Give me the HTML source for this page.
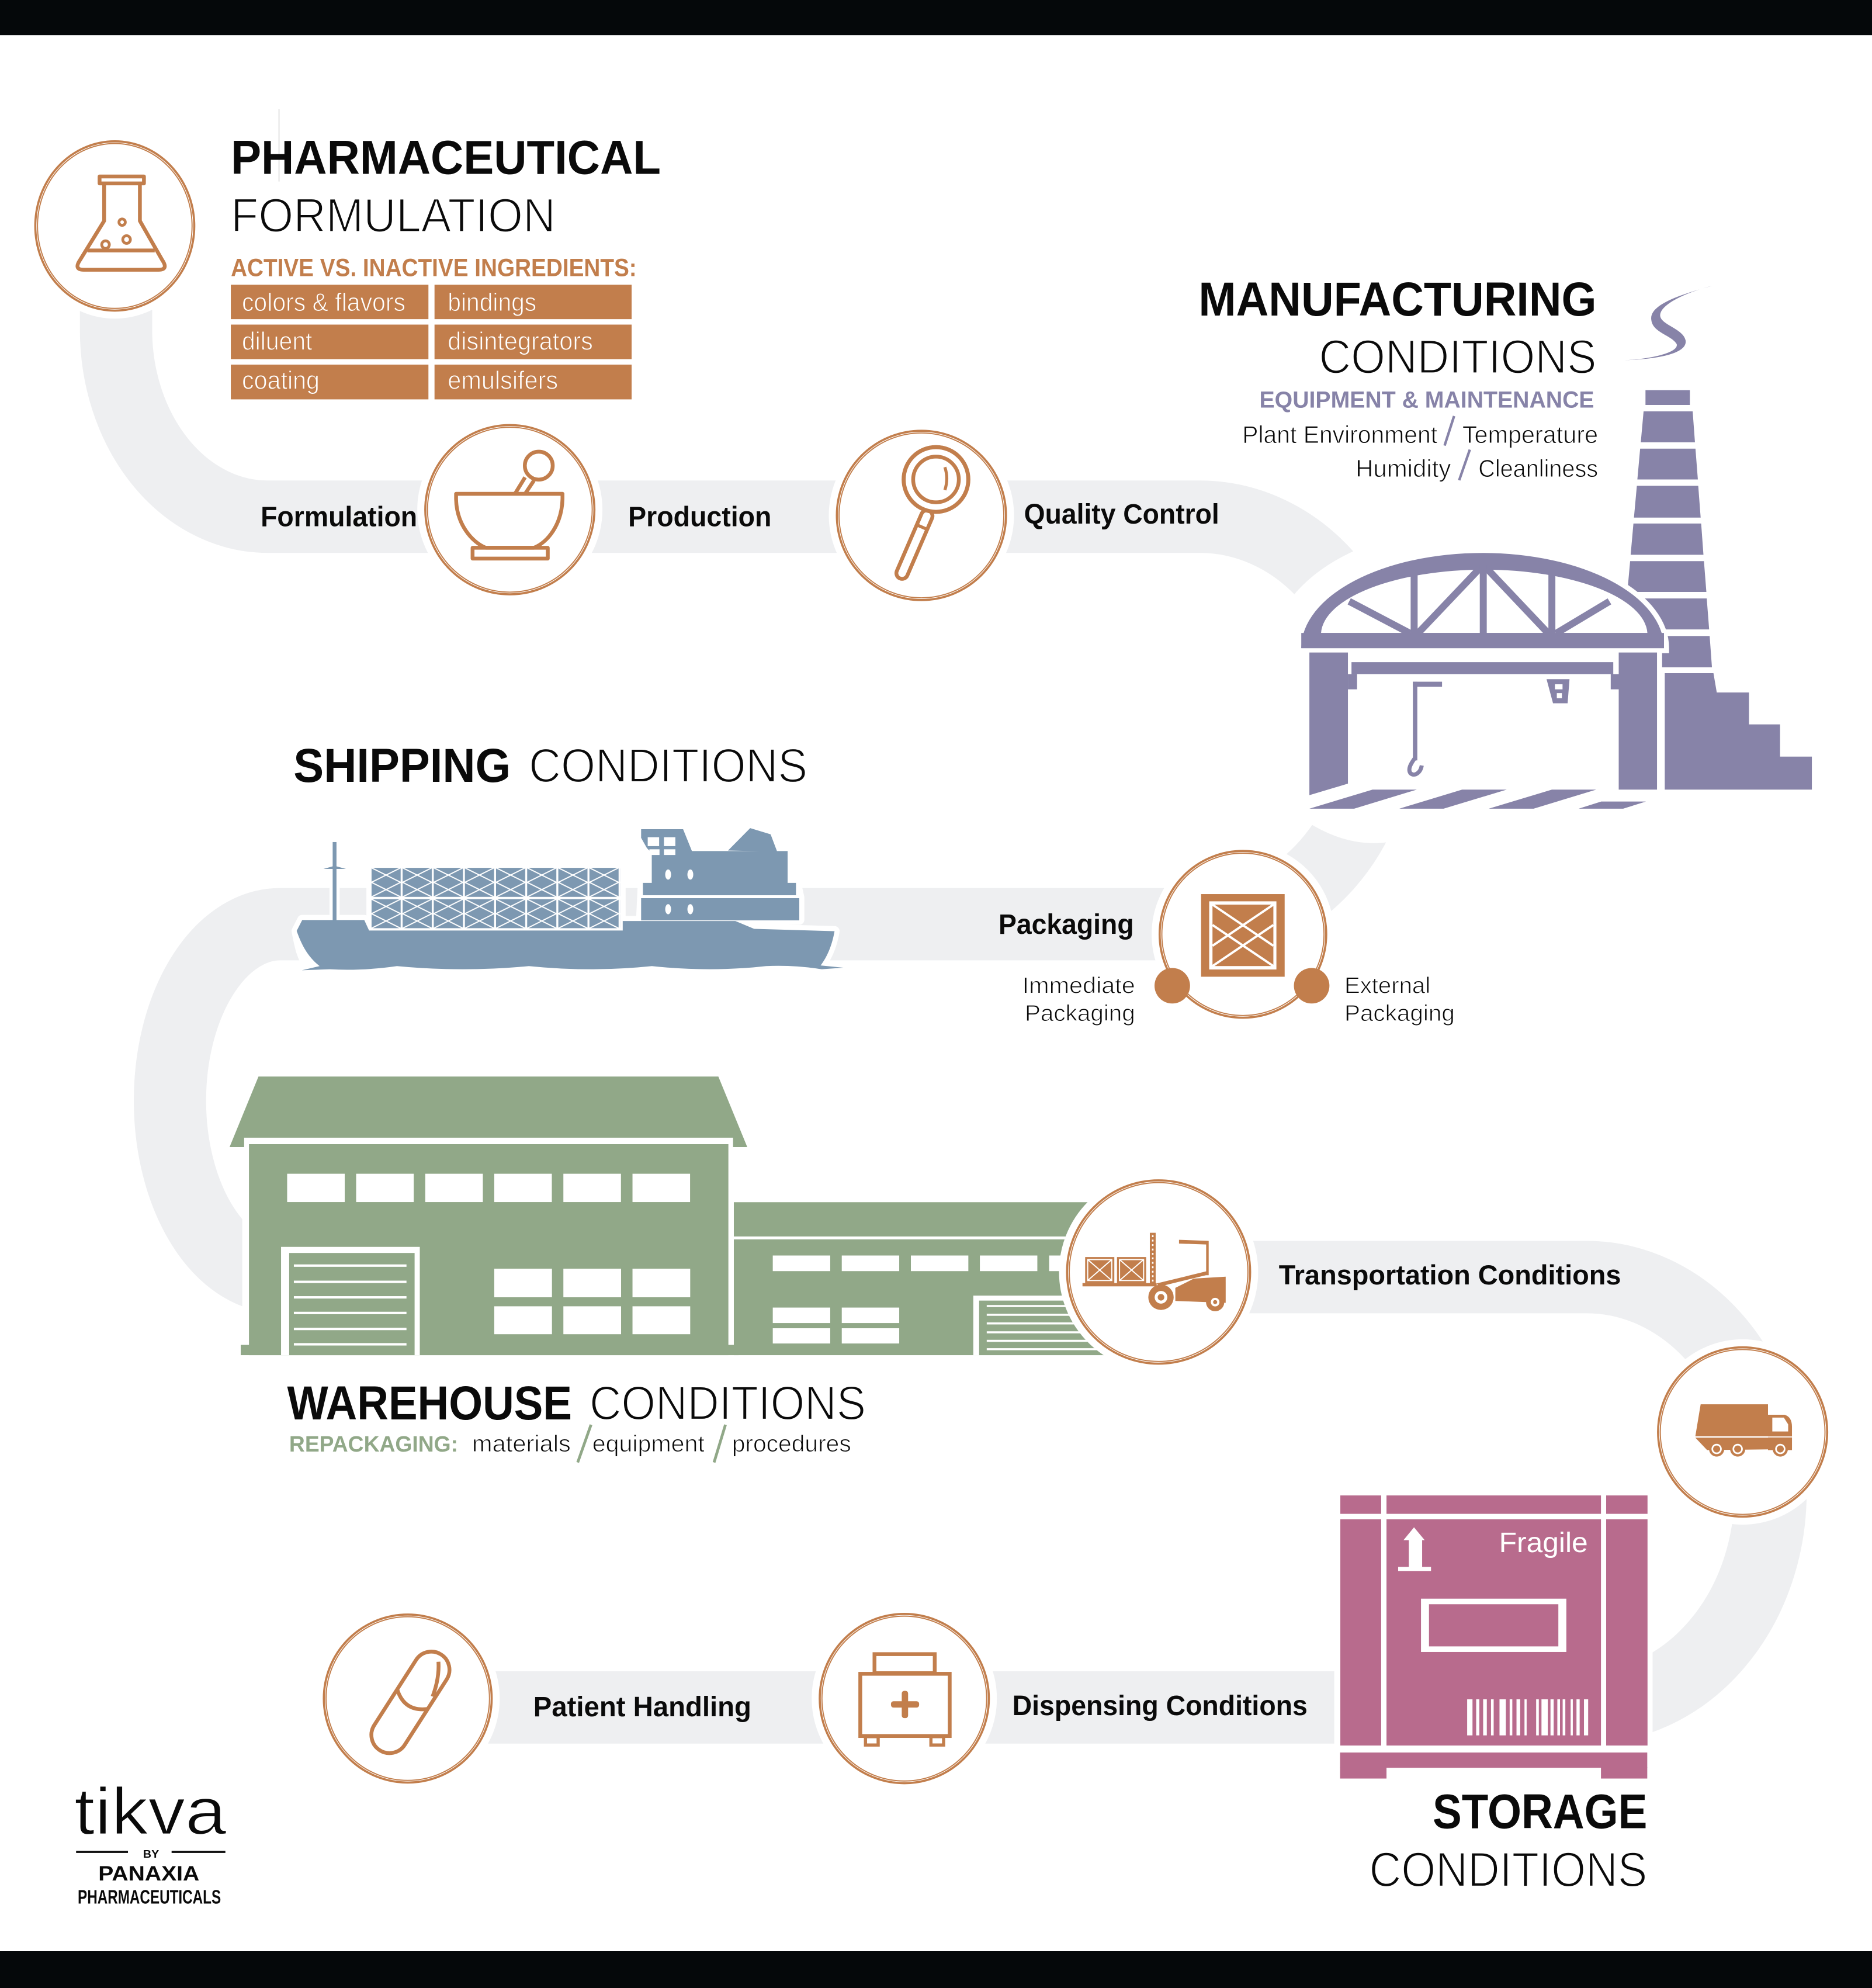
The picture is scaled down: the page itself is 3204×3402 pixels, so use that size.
<!DOCTYPE html>
<html><head><meta charset="utf-8"><style>
html,body{margin:0;padding:0;background:#fff;overflow:hidden}
svg{display:block}
text{font-family:"Liberation Sans",Arial,sans-serif}
.b{font-weight:bold;fill:#0a0a0a}
.l{fill:#0a0a0a;stroke:#fff;stroke-width:1}
.ls{fill:#0a0a0a;stroke:#fff;stroke-width:0.45}
.o{fill:none;stroke:#C27E4C;stroke-width:3}
</style></head><body>
<svg xmlns="http://www.w3.org/2000/svg" width="3204" height="3402" viewBox="0 0 1476 1566" preserveAspectRatio="none">
<defs>
<pattern id="cont" x="292.9" y="683.6" width="24.55" height="24.7" patternUnits="userSpaceOnUse">
<rect width="24.55" height="24.7" fill="#fff"/>
<rect width="23" height="22.9" fill="#7D98B1"/>
<path d="M0 0 L23 11.45 L0 22.9 M23 0 L0 11.45 L23 22.9" stroke="#fff" stroke-width="0.9" fill="none"/>
</pattern>
</defs>
<rect width="1476" height="1566" fill="#fff"/>
<!-- bars -->
<rect x="0" y="0" width="1476" height="27.7" fill="#05080A"/>
<rect x="0" y="1537" width="1476" height="30" fill="#05080A"/>
<line x1="220" y1="86" x2="220" y2="143" stroke="#e6e6e6" stroke-width="1"/>

<!-- track -->
<path d="M91.5 240 L91.5 260 A119.5 147 0 0 0 211 407 L946 407 A142 160.5 0 0 1 946 728 L221 728 A87 139 0 0 0 221 1006 L1251 1006 A145 169.5 0 0 1 1251 1345 L321 1345" fill="none" stroke="#EEEFF1" stroke-width="57"/>

<!-- white cutouts -->
<ellipse cx="1169" cy="510.5" rx="165" ry="97" fill="#fff"/>
<path d="M1020 505 L1316 505 L1316 651 L1120 656 Q1075 676 1030 647 L1020 647 Z" fill="#fff"/>
<rect x="191" y="845" width="684" height="223" fill="#fff"/>
<rect x="1052" y="1172" width="251" height="230" fill="#fff"/>

<!-- FACTORY -->
<g fill="#8783A8">
<path d="M1350.6 225 C1325 232 1300 240 1302 252 C1303 262 1318 264 1322 271 C1324 278 1300 283 1281 283.7 C1305 283 1331 279 1329 268 C1327 259 1310 256 1309 249 C1308 240 1330 230 1350.6 225 Z"/>
<rect x="1297.4" y="307.3" width="35" height="11.7"/>
<polygon points="1295.9,324 1334.6,324 1336.4,348.4 1293.7,348.4"/>
<polygon points="1293.2,353.4 1336.8,353.4 1338.7,377.7 1291,377.7"/>
<polygon points="1290.6,382.7 1339,382.7 1340.9,407.7 1288.3,407.7"/>
<polygon points="1287.9,412.4 1341.3,412.4 1343.1,437 1285.7,437"/>
<polygon points="1285.3,442 1343.5,442 1345.4,466.3 1283.1,466.3"/>
<polygon points="1282.6,471.4 1345.7,471.4 1347.6,495.8 1280.4,495.8"/>
<polygon points="1280,501 1348,501 1349.8,525.7 1277.7,525.7"/>
<polygon points="1312.6,530.3 1351,530.3 1353.6,545.5 1379,545.5 1379,570.6 1403.5,570.6 1403.5,596 1428.6,596 1428.6,622 1312.6,622"/>
</g>
<!-- arch white outline and pillar outline -->
<path d="M1026 510.5 A143 75 0 0 1 1312 510.5 Z" fill="#fff" stroke="#fff" stroke-width="8"/>
<rect x="1272" y="505" width="38.5" height="120" fill="#fff"/>
<g fill="#8783A8">
<path d="M1026 510.5 A143 75 0 0 1 1312 510.5 Z"/>
</g>
<path d="M1041.6 498.6 A128.7 51.3 0 0 1 1298.9 498.6 Z" fill="#fff"/>
<rect x="1026" y="498.6" width="286" height="12" fill="#8783A8"/>
<g stroke="#8783A8" stroke-width="5.5" fill="none">
<line x1="1115" y1="449" x2="1115" y2="500"/>
<line x1="1169.5" y1="445" x2="1169.5" y2="500"/>
<line x1="1223.6" y1="449" x2="1223.6" y2="500"/>
<line x1="1063.8" y1="473.7" x2="1112" y2="499"/>
<line x1="1117.9" y1="499" x2="1166.4" y2="448"/>
<line x1="1172.5" y1="448" x2="1220.8" y2="499"/>
<line x1="1269" y1="473.7" x2="1226.8" y2="499"/>
</g>
<g fill="#8783A8">
<polygon points="1032.4,514 1062.8,514 1062.8,617.3 1032.4,626.4"/>
<rect x="1276.3" y="514" width="30.2" height="108"/>
<rect x="1065.6" y="521.6" width="206.4" height="9.4"/>
<rect x="1062.8" y="531" width="7.2" height="12"/>
<rect x="1270" y="531" width="6.3" height="12"/>
<rect x="1114" y="537" width="3.5" height="62"/>
<rect x="1114" y="537" width="23" height="4"/>
<polygon points="1219.4,535 1237.5,535 1236,554 1224.5,554"/>
<polygon points="1082.2,622 1117.1,622 1067.7,637 1032.4,637"/>
<polygon points="1152.8,622 1188,622 1138.2,637 1103.3,637"/>
<polygon points="1223.6,622 1258.6,622 1209.2,637 1173.8,637"/>
<polygon points="1262.5,631.4 1297.8,631.4 1279.8,637 1244.7,637"/>
</g>
<rect x="1226" y="539" width="6" height="4" fill="#fff"/>
<rect x="1227.5" y="546" width="4" height="4" fill="#fff"/>
<path d="M1115.7 597 C1112 602 1110 606 1112 609 C1115 612 1120 609 1121 603" fill="none" stroke="#8783A8" stroke-width="3.2"/>

<!-- SHIP -->
<g fill="#fff" stroke="#fff" stroke-width="8" stroke-linejoin="round">
<path d="M238.3 724.7 L287.2 724.7 L291 733 L491 733 L491 725.5 L579.8 725.5 L594.6 731.7 L658 733.5 C656 745 652 754 647 760.5 L648 763.5 Q626 760 604 761 Q560 766 514 761 Q466 766 417 761 Q365 766 313 761 Q280 765 245 764 C238 755 236 745 233.9 733.3 Z"/>
<rect x="292.9" y="683.6" width="196.4" height="47.6"/>
<polygon points="505.5,653.2 538.6,653.2 546.2,672 621,670.4 621,695.5 627.6,695.5 630.2,707 630.2,724.5 505.5,724.5 506.9,695.5 505.5,660"/>
<polygon points="574,670 591.5,652.3 607.6,657.2 612.7,670.7"/>
<line x1="263.8" y1="663.3" x2="263.8" y2="724"/>
</g>
<g fill="#7D98B1">
<path d="M238.3 724.7 L287.2 724.7 L291 733 L491 733 L491 725.5 L579.8 725.5 L594.6 731.7 L658 733.5 C656 745 652 754 647 760.5 L665 762.3 L648 763.5 Q626 760 604 761 Q560 766 514 761 Q466 766 417 761 Q365 766 313 761 Q285 765 260 763.5 L238 764.3 L252 761 C243 754 238 745 233.9 733.3 Z"/>
<rect x="292.9" y="683.6" width="196.4" height="47.6" fill="url(#cont)"/>
<polygon points="505.5,653.2 538.6,653.2 546.2,672 513.9,672 510,668 505.5,660"/>
<polygon points="513.9,670.4 621,670.4 621,695.5 627.6,695.5 627.6,705.2 506.9,705.2 506.9,695.5 513.9,695.5"/>
<rect x="505.5" y="707.5" width="124.7" height="17.5"/>
<polygon points="574,670 591.5,652.3 607.6,657.2 612.7,670.7"/>
<rect x="262.3" y="663.3" width="3" height="62"/>
<path d="M255 684.5 L263.8 682 L272.8 684.5 Z"/>
</g>
<g fill="#fff">
<rect x="510.7" y="659.5" width="9" height="7"/>
<rect x="523.5" y="659.5" width="9" height="7"/>
<rect x="512" y="669" width="8" height="4.5"/>
<rect x="523.5" y="669" width="9" height="4.5"/>
<ellipse cx="526.8" cy="688.9" rx="2.3" ry="4"/>
<ellipse cx="544.3" cy="688.9" rx="2.3" ry="4"/>
<ellipse cx="526.8" cy="716.2" rx="2.3" ry="4"/>
<ellipse cx="544.3" cy="716.2" rx="2.3" ry="4"/>
<rect x="505" y="705.2" width="126" height="2.2"/>
</g>

<!-- WAREHOUSE -->
<g fill="#91A888">
<polygon points="203.8,848 566.4,848 589.2,903.6 578,903.6 578,896.2 192.5,896.2 192.5,903.6 181,903.6"/>
<rect x="196.3" y="901.3" width="378" height="166.2"/>
<rect x="189.8" y="1059.4" width="392.5" height="8.1"/>
<rect x="578.6" y="947" width="296.4" height="27"/>
<rect x="578.6" y="976.3" width="296.4" height="91.2"/>
</g>
<g fill="#fff">
<rect x="226.4" y="924.6" width="45.4" height="22.3"/>
<rect x="280.8" y="924.6" width="45.4" height="22.3"/>
<rect x="335.3" y="924.6" width="45.4" height="22.3"/>
<rect x="389.7" y="924.6" width="45.4" height="22.3"/>
<rect x="444.2" y="924.6" width="45.4" height="22.3"/>
<rect x="498.7" y="924.6" width="45.4" height="22.3"/>
<rect x="389.7" y="999.4" width="45.5" height="22.5"/>
<rect x="444.2" y="999.4" width="45.5" height="22.5"/>
<rect x="498.7" y="999.4" width="45.5" height="22.5"/>
<rect x="389.7" y="1029" width="45.5" height="22"/>
<rect x="444.2" y="1029" width="45.5" height="22"/>
<rect x="498.7" y="1029" width="45.5" height="22"/>
<rect x="221.6" y="982.2" width="109.4" height="85.3"/>
<rect x="609.3" y="989" width="45.3" height="12.3"/>
<rect x="663.7" y="989" width="45.3" height="12.3"/>
<rect x="718.2" y="989" width="45.3" height="12.3"/>
<rect x="772.6" y="989" width="45.3" height="12.3"/>
<rect x="827.2" y="989" width="45.3" height="12.3"/>
<rect x="609.3" y="1030" width="45.3" height="12.2"/>
<rect x="663.7" y="1030" width="45.3" height="12.2"/>
<rect x="609.3" y="1046.3" width="45.3" height="12"/>
<rect x="663.7" y="1046.3" width="45.3" height="12"/>
<rect x="767.4" y="1020.6" width="112" height="47"/>
</g>
<rect x="228" y="987" width="98.9" height="80.5" fill="#91A888"/>
<rect x="772" y="1024.5" width="108" height="43" fill="#91A888"/>
<g fill="#fff">
<rect x="231.7" y="996" width="88.8" height="1.9"/>
<rect x="231.7" y="1008.8" width="88.8" height="1.9"/>
<rect x="231.7" y="1021" width="88.8" height="1.9"/>
<rect x="231.7" y="1033.3" width="88.8" height="1.9"/>
<rect x="231.7" y="1045.9" width="88.8" height="1.9"/>
<rect x="231.7" y="1058" width="88.8" height="1.9"/>
<rect x="778" y="1028" width="95" height="1.6"/>
<rect x="778" y="1034.9" width="95" height="1.6"/>
<rect x="778" y="1041.7" width="95" height="1.6"/>
<rect x="778" y="1048.7" width="95" height="1.6"/>
<rect x="778" y="1055.4" width="95" height="1.6"/>
<rect x="778" y="1062" width="95" height="1.6"/>
</g>

<!-- STORAGE BOX -->
<g fill="#B86B8D">
<rect x="1056.8" y="1178" width="32.2" height="14.5"/>
<rect x="1093.2" y="1178" width="169.1" height="14.5"/>
<rect x="1266.4" y="1178" width="32.6" height="14.5"/>
<rect x="1056.8" y="1196.8" width="32.2" height="178.2"/>
<rect x="1093.2" y="1196.8" width="169.1" height="178.2"/>
<rect x="1266.4" y="1196.8" width="32.6" height="178.2"/>
<rect x="1056.6" y="1380.5" width="242.2" height="12"/>
<rect x="1056.6" y="1392" width="36.6" height="9"/>
<rect x="1262.3" y="1392" width="36.5" height="9"/>
</g>
<g fill="#fff">
<polygon points="1114.9,1203.1 1123.3,1213.2 1106.6,1213.2"/>
<rect x="1110.8" y="1212.5" width="10.5" height="22.5"/>
<rect x="1102.4" y="1234.3" width="25.9" height="3.2"/>
<rect x="1120.4" y="1259.3" width="114.6" height="42"/>
</g>
<rect x="1126.7" y="1263.7" width="102" height="33.2" fill="#B86B8D"/>
<g fill="#fff">
<rect x="1156.8" y="1338.6" width="4.2" height="28.4"/>
<rect x="1163.9" y="1338.6" width="2.5" height="28.4"/>
<rect x="1169.4" y="1338.6" width="2.9" height="28.4"/>
<rect x="1175.6" y="1338.6" width="2.1" height="28.4"/>
<rect x="1182.3" y="1338.6" width="5" height="28.4"/>
<rect x="1190.3" y="1338.6" width="2.1" height="28.4"/>
<rect x="1195.7" y="1338.6" width="2.9" height="28.4"/>
<rect x="1202" y="1338.6" width="1.7" height="28.4"/>
<rect x="1211.2" y="1338.6" width="2.1" height="28.4"/>
<rect x="1215.4" y="1338.6" width="5" height="28.4"/>
<rect x="1222.5" y="1338.6" width="2.5" height="28.4"/>
<rect x="1227.9" y="1338.6" width="2.1" height="28.4"/>
<rect x="1232.1" y="1338.6" width="2.1" height="28.4"/>
<rect x="1238.4" y="1338.6" width="1.7" height="28.4"/>
<rect x="1243" y="1338.6" width="2.5" height="28.4"/>
<rect x="1248.9" y="1338.6" width="3.3" height="28.4"/>
</g>
<text x="1181.9" y="1222.5" font-size="22" fill="#fff" textLength="70.1" lengthAdjust="spacingAndGlyphs">Fragile</text>

<!-- CIRCLES -->
<g fill="#fff" stroke="#fff" stroke-width="12">
<ellipse cx="90.5" cy="178" rx="63" ry="67"/>
<circle cx="402" cy="401.5" r="67"/>
<circle cx="726.5" cy="406" r="67"/>
<circle cx="980" cy="736" r="66"/>
<circle cx="913.5" cy="1002" r="72.5"/>
<circle cx="1374" cy="1128" r="67"/>
<circle cx="713" cy="1338" r="67"/>
<circle cx="321.5" cy="1338" r="66.5"/>
</g>
<g fill="#fff" stroke="#C27E4C" stroke-width="3">
<ellipse cx="90.5" cy="178" rx="62" ry="66"/>
<circle cx="402" cy="401.5" r="66"/>
<circle cx="726.5" cy="406" r="66"/>
<circle cx="980" cy="736" r="65"/>
<circle cx="913.5" cy="1002" r="71.5"/>
<circle cx="1374" cy="1128" r="66"/>
<circle cx="713" cy="1338" r="66"/>
<circle cx="321.5" cy="1338" r="65.5"/>
</g>
<g fill="none" stroke="#fff" stroke-width="0.45">
<ellipse cx="90.5" cy="178" rx="61.6" ry="65.6"/>
<circle cx="402" cy="401.5" r="65.6"/>
<circle cx="726.5" cy="406" r="65.6"/>
<circle cx="980" cy="736" r="64.6"/>
<circle cx="913.5" cy="1002" r="71.1"/>
<circle cx="1374" cy="1128" r="65.6"/>
<circle cx="713" cy="1338" r="65.6"/>
<circle cx="321.5" cy="1338" r="65.1"/>
</g>

<!-- flask -->
<g class="o" stroke-linejoin="round">
<rect x="78.5" y="139" width="35" height="5.5"/>
<path d="M82.1 145 L82.1 174 L63 205 Q58 212.5 66 212.5 L125 212.5 Q133 212.5 128 205 L110.3 174 L110.3 145"/>
<line x1="69" y1="197.3" x2="122" y2="197.3"/>
<circle cx="96.3" cy="175" r="2.5" stroke-width="2.2"/>
<circle cx="99.8" cy="188.7" r="3" stroke-width="2.2"/>
<circle cx="83.2" cy="192.7" r="3" stroke-width="2.2"/>
</g>
<!-- mortar -->
<g class="o" stroke-width="3.4" stroke-linejoin="round">
<path d="M359.6 389 L443.5 389 L443.5 393 C443 413 432 427 421 431.5 L383 431.5 C372 427 360 413 359.6 393 Z"/>
<rect x="372.6" y="431.5" width="59.3" height="8.5"/>
<circle cx="424.8" cy="366.8" r="11"/>
<path d="M414 376 L406 389 M421 378.5 L414 389"/>
</g>
<!-- magnifier -->
<g transform="rotate(23.4 721 429)">
<rect x="716.5" y="400" width="9" height="58" rx="4.5" fill="#fff" stroke="#C27E4C" stroke-width="3"/>
<line x1="716.5" y1="414" x2="725.5" y2="414" stroke="#C27E4C" stroke-width="2.5"/>
</g>
<circle cx="738" cy="377.7" r="25.5" fill="#fff" stroke="#C27E4C" stroke-width="3.2"/>
<circle cx="738" cy="377.7" r="18" fill="none" stroke="#C27E4C" stroke-width="3"/>
<path d="M745 368 Q748 377 745 386" fill="none" stroke="#C27E4C" stroke-width="2.4"/>
<!-- crate -->
<rect x="947" y="704.3" width="65.9" height="65.1" fill="#C27E4C"/>
<rect x="953.4" y="710" width="53" height="53.7" fill="#fff"/>
<rect x="956" y="712.6" width="48" height="48.4" fill="#C27E4C"/>
<path d="M956 712.6 L1004 745 M1004 712.6 L956 745 M956 728.6 L1004 761 M1004 728.6 L956 761" stroke="#fff" stroke-width="1.8" fill="none"/>
<circle cx="924.3" cy="776.5" r="14" fill="#C27E4C"/>
<circle cx="1034.2" cy="776.5" r="14" fill="#C27E4C"/>
<!-- forklift -->
<g fill="#C27E4C">
<rect x="855.6" y="990.2" width="23" height="20.5"/>
<rect x="880.7" y="990.2" width="23" height="20.5"/>
<rect x="853.5" y="1010.7" width="58.5" height="2.6"/>
<rect x="906.6" y="971.1" width="4.6" height="40.5"/>
<polygon points="929.6,976.6 953,977.5 953,1004.5 951,1004.5 951,980.3 929.6,979.6"/>
<polygon points="912,1011 951,1001.5 953,1004 914,1013.5"/>
<polygon points="926.7,1014.5 941.3,1007.2 966.4,1005.7 966.4,1026.3 926.7,1024.8"/>
<circle cx="915.4" cy="1021.9" r="10"/>
<circle cx="958.1" cy="1025.7" r="7.2"/>
</g>
<g fill="none" stroke="#fff" stroke-width="0.9">
<rect x="857.6" y="992.2" width="19" height="16.5"/>
<rect x="882.7" y="992.2" width="19" height="16.5"/>
<path d="M857.6 992.2 L876.6 1008.7 M876.6 992.2 L857.6 1008.7 M882.7 992.2 L901.7 1008.7 M901.7 992.2 L882.7 1008.7"/>
<line x1="908.9" y1="973" x2="908.9" y2="1010" stroke-dasharray="1.5 2" stroke-width="1.2"/>
</g>
<circle cx="915.4" cy="1021.9" r="5" fill="#fff"/>
<circle cx="915.4" cy="1021.9" r="2.6" fill="#C27E4C"/>
<circle cx="958.1" cy="1025.7" r="3.4" fill="#fff"/>
<circle cx="958.1" cy="1025.7" r="1.6" fill="#C27E4C"/>
<!-- truck -->
<g fill="#C27E4C">
<polygon points="1340.9,1106.2 1394,1106.2 1394,1131.4 1336.7,1131.4"/>
<path d="M1394 1114.4 L1407 1114.4 Q1412.9 1116 1412.9 1124 L1412.9 1142.3 L1394 1142.3 Z"/>
<polygon points="1336.7,1132.5 1412.9,1132.5 1412.9,1141.5 1346,1142.3"/>
<circle cx="1353.5" cy="1141.4" r="6"/>
<circle cx="1370.1" cy="1141.4" r="6"/>
<circle cx="1403.7" cy="1141.4" r="6"/>
</g>
<polygon points="1397.4,1116.7 1406.5,1116.7 1409.9,1122 1409.9,1127.6 1397.4,1127.6" fill="#fff"/>
<g fill="none" stroke="#fff" stroke-width="1.3">
<circle cx="1353.5" cy="1141.4" r="3.4"/>
<circle cx="1370.1" cy="1141.4" r="3.4"/>
<circle cx="1403.7" cy="1141.4" r="3.4"/>
<line x1="1337" y1="1131.9" x2="1413" y2="1131.9" stroke-width="0.8"/>
</g>
<!-- medkit -->
<g class="o">
<rect x="689.5" y="1303" width="47.5" height="15"/>
<rect x="678.3" y="1318.5" width="70.5" height="49"/>
<rect x="682.4" y="1368" width="10" height="6.6" stroke-width="2.5"/>
<rect x="734" y="1368" width="10" height="6.6" stroke-width="2.5"/>
</g>
<rect x="711" y="1331.9" width="5" height="21.5" rx="2" fill="#C27E4C"/>
<rect x="702.5" y="1340.1" width="22.2" height="5" rx="2" fill="#C27E4C"/>
<!-- pill -->
<g transform="rotate(32.7 323.6 1341)">
<rect x="309.3" y="1296.2" width="28.6" height="89.6" rx="14.3" class="o" stroke-width="3.2"/>
<path d="M309.3 1338 Q323.6 1350 337.9 1338" class="o" stroke-width="3.2"/>
</g>
<path d="M345.7 1309 Q346.5 1322 341.1 1336.4" class="o" stroke-width="2.5"/>

<!-- TEXT -->
<text class="b" x="182" y="137" font-size="37.5" textLength="339" lengthAdjust="spacingAndGlyphs">PHARMACEUTICAL</text>
<text class="l" x="182" y="182.6" font-size="37.5" textLength="256" lengthAdjust="spacingAndGlyphs">FORMULATION</text>
<text x="182" y="217.5" font-size="19.5" font-weight="bold" fill="#C27E4C" textLength="320" lengthAdjust="spacingAndGlyphs">ACTIVE VS. INACTIVE INGREDIENTS:</text>
<g fill="#C27E4C">
<rect x="182" y="224.3" width="155.8" height="27.1"/>
<rect x="342.6" y="224.3" width="155.4" height="27.1"/>
<rect x="182" y="255.7" width="155.8" height="27.2"/>
<rect x="342.6" y="255.7" width="155.4" height="27.2"/>
<rect x="182" y="287.2" width="155.8" height="27.4"/>
<rect x="342.6" y="287.2" width="155.4" height="27.4"/>
</g>
<g font-size="20" fill="#fff" stroke="#C27E4C" stroke-width="0.5">
<text x="190.7" y="245" textLength="129" lengthAdjust="spacingAndGlyphs">colors &amp; flavors</text>
<text x="353" y="245" textLength="70" lengthAdjust="spacingAndGlyphs">bindings</text>
<text x="190.7" y="275.6" textLength="55.5" lengthAdjust="spacingAndGlyphs">diluent</text>
<text x="353" y="275.6" textLength="114.5" lengthAdjust="spacingAndGlyphs">disintegrators</text>
<text x="190.7" y="306.4" textLength="61.3" lengthAdjust="spacingAndGlyphs">coating</text>
<text x="353" y="306.4" textLength="87" lengthAdjust="spacingAndGlyphs">emulsifers</text>
</g>

<text class="b" x="205.5" y="414.6" font-size="22.3" textLength="123.5" lengthAdjust="spacingAndGlyphs">Formulation</text>
<text class="b" x="495.3" y="414.6" font-size="22.3" textLength="113" lengthAdjust="spacingAndGlyphs">Production</text>
<text class="b" x="807.4" y="412.5" font-size="22.3" textLength="153.9" lengthAdjust="spacingAndGlyphs">Quality Control</text>

<text class="b" x="945" y="248.6" font-size="37.5" textLength="313.8" lengthAdjust="spacingAndGlyphs">MANUFACTURING</text>
<text class="l" x="1040" y="294" font-size="37.5" textLength="218.8" lengthAdjust="spacingAndGlyphs">CONDITIONS</text>
<text x="993" y="321" font-size="18.4" font-weight="bold" fill="#8783A8" textLength="264" lengthAdjust="spacingAndGlyphs">EQUIPMENT &amp; MAINTENANCE</text>
<text class="ls" x="979.5" y="349" font-size="19" textLength="153.8" lengthAdjust="spacingAndGlyphs">Plant Environment</text>
<text class="ls" x="1153" y="349" font-size="19" textLength="107" lengthAdjust="spacingAndGlyphs">Temperature</text>
<text class="ls" x="1068.8" y="375.6" font-size="19" textLength="75.2" lengthAdjust="spacingAndGlyphs">Humidity</text>
<text class="ls" x="1165.6" y="375.6" font-size="19" textLength="94.4" lengthAdjust="spacingAndGlyphs">Cleanliness</text>
<line x1="1146.5" y1="327.7" x2="1139" y2="351" stroke="#8783A8" stroke-width="2"/>
<line x1="1158.9" y1="354.2" x2="1150.5" y2="378.3" stroke="#8783A8" stroke-width="2"/>

<text class="b" x="231.4" y="615.8" font-size="37.5" textLength="171.3" lengthAdjust="spacingAndGlyphs">SHIPPING</text>
<text class="l" x="417" y="615.8" font-size="37.5" textLength="219.7" lengthAdjust="spacingAndGlyphs">CONDITIONS</text>

<text class="b" x="787.3" y="735.6" font-size="22.3" textLength="106.7" lengthAdjust="spacingAndGlyphs">Packaging</text>
<text class="ls" x="806" y="782.3" font-size="18" textLength="89" lengthAdjust="spacingAndGlyphs">Immediate</text>
<text class="ls" x="808" y="804.2" font-size="18" textLength="87" lengthAdjust="spacingAndGlyphs">Packaging</text>
<text class="ls" x="1060" y="782.3" font-size="18" textLength="67.8" lengthAdjust="spacingAndGlyphs">External</text>
<text class="ls" x="1060" y="804.2" font-size="18" textLength="87" lengthAdjust="spacingAndGlyphs">Packaging</text>

<text class="b" x="1008.3" y="1011.7" font-size="21.8" textLength="269.8" lengthAdjust="spacingAndGlyphs">Transportation Conditions</text>

<text class="b" x="226.4" y="1118.2" font-size="37.5" textLength="224.6" lengthAdjust="spacingAndGlyphs">WAREHOUSE</text>
<text class="l" x="464.8" y="1118.2" font-size="37.5" textLength="217.9" lengthAdjust="spacingAndGlyphs">CONDITIONS</text>
<text x="228" y="1143.5" font-size="17.5" font-weight="bold" fill="#91A888" textLength="133.2" lengthAdjust="spacingAndGlyphs">REPACKAGING:</text>
<text class="ls" x="372.2" y="1143.5" font-size="18.5" textLength="77.8" lengthAdjust="spacingAndGlyphs">materials</text>
<text class="ls" x="467" y="1143.5" font-size="18.5" textLength="88.5" lengthAdjust="spacingAndGlyphs">equipment</text>
<text class="ls" x="577.1" y="1143.5" font-size="18.5" textLength="94" lengthAdjust="spacingAndGlyphs">procedures</text>
<line x1="466" y1="1122.3" x2="455.5" y2="1152" stroke="#91A888" stroke-width="2.2"/>
<line x1="572" y1="1122.3" x2="563" y2="1152" stroke="#91A888" stroke-width="2.2"/>

<text class="b" x="420.5" y="1352" font-size="22.3" textLength="171.9" lengthAdjust="spacingAndGlyphs">Patient Handling</text>
<text class="b" x="798.2" y="1351" font-size="22.3" textLength="232.7" lengthAdjust="spacingAndGlyphs">Dispensing Conditions</text>

<text class="b" x="1129.6" y="1440" font-size="38.3" textLength="169.2" lengthAdjust="spacingAndGlyphs">STORAGE</text>
<text class="l" x="1079.6" y="1486" font-size="38.3" textLength="219.2" lengthAdjust="spacingAndGlyphs">CONDITIONS</text>

<!-- logo -->
<text x="58.5" y="1444.8" font-size="52" fill="#0a0a0a" stroke="#fff" stroke-width="0.8" textLength="120" lengthAdjust="spacingAndGlyphs">tikva</text>
<line x1="60" y1="1458.8" x2="100.9" y2="1458.8" stroke="#0a0a0a" stroke-width="1.6"/>
<line x1="135.3" y1="1458.8" x2="177.7" y2="1458.8" stroke="#0a0a0a" stroke-width="1.6"/>
<text x="112.8" y="1463.4" font-size="8.5" font-weight="bold" fill="#0a0a0a" textLength="12.6" lengthAdjust="spacingAndGlyphs">BY</text>
<text x="77.5" y="1481.4" font-size="16" font-weight="bold" fill="#0a0a0a" textLength="79.7" lengthAdjust="spacingAndGlyphs">PANAXIA</text>
<text x="61.3" y="1499.4" font-size="15.5" font-weight="bold" fill="#0a0a0a" textLength="112.9" lengthAdjust="spacingAndGlyphs">PHARMACEUTICALS</text>
</svg>
</body></html>
